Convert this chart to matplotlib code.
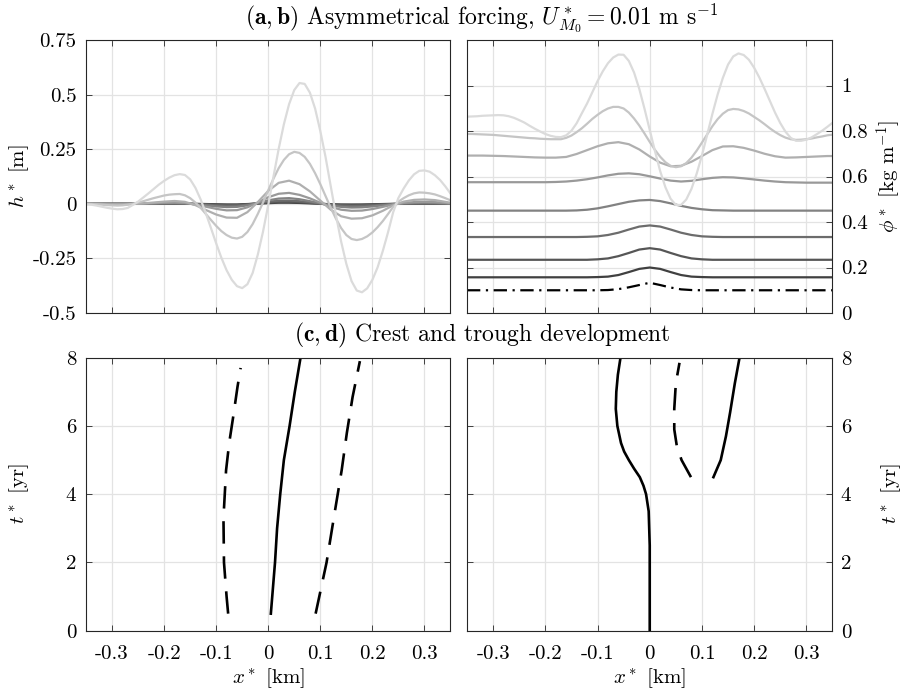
import matplotlib
matplotlib.use("Agg")
import matplotlib.pyplot as plt
import numpy as np

plt.rcParams.update({
    "font.family": "serif",
    "font.serif": ["cmr10"],
    "mathtext.fontset": "cm",
    "axes.unicode_minus": False,
    "axes.formatter.use_mathtext": True,
    "font.size": 15,
})

# x positions [km]: coarse grid for the small-amplitude profiles, fine grid for the large ones
x_km = [-0.35, -0.34, -0.32, -0.30, -0.28, -0.26, -0.24, -0.22, -0.20, -0.18,
        -0.16, -0.14, -0.12, -0.10, -0.08, -0.06, -0.04, -0.02, 0.00, 0.02,
        0.04, 0.06, 0.08, 0.10, 0.12, 0.14, 0.16, 0.18, 0.20, 0.22,
        0.24, 0.26, 0.28, 0.30, 0.32, 0.34, 0.35]
x_km_fine = [-0.35, -0.34, -0.33, -0.32, -0.31, -0.30, -0.29, -0.28, -0.27, -0.26,
             -0.25, -0.24, -0.23, -0.22, -0.21, -0.20, -0.19, -0.18, -0.17, -0.16,
             -0.15, -0.14, -0.13, -0.12, -0.11, -0.10, -0.09, -0.08, -0.07, -0.06,
             -0.05, -0.04, -0.03, -0.02, -0.01, 0.00, 0.01, 0.02, 0.03, 0.04,
             0.05, 0.06, 0.07, 0.08, 0.09, 0.10, 0.11, 0.12, 0.13, 0.14,
             0.15, 0.16, 0.17, 0.18, 0.19, 0.20, 0.21, 0.22, 0.23, 0.24,
             0.25, 0.26, 0.27, 0.28, 0.29, 0.30, 0.31, 0.32, 0.33, 0.34, 0.35]

# (a) bed height h* [m], t = 1 ... 8 yr (dark -> light)
h_t1 = [0, 0, 0, 0, 0, 0, 0, 0, 0, 0, 0, 0, -0.001, -0.002, -0.003, -0.003, -0.001, 0.001, 0.003,
        0.005, 0.005, 0.004, 0.002, 0, -0.002, -0.003, -0.003, -0.003, -0.002, -0.001, 0, 0,
        0.001, 0.001, 0.001, 0, 0]
h_t2 = [0, 0, 0, 0, 0, 0, 0, 0, 0.001, 0.001, 0.001, -0.001, -0.002, -0.004, -0.005, -0.005, -0.002,
        0.002, 0.006, 0.008, 0.009, 0.007, 0.004, 0.001, -0.003, -0.005, -0.006, -0.005, -0.004,
        -0.002, -0.001, 0.001, 0.001, 0.002, 0.001, 0.001, 0]
h_t3 = [0, 0, 0, 0, 0, 0, 0, 0.001, 0.001, 0.002, 0.001, -0.001, -0.004, -0.007, -0.009, -0.008,
        -0.004, 0.003, 0.010, 0.014, 0.015, 0.012, 0.007, 0.001, -0.005, -0.008, -0.010, -0.009,
        -0.007, -0.004, -0.001, 0.001, 0.002, 0.003, 0.002, 0.001, 0]
h_t4 = [0, 0, 0, 0, 0, 0, 0.001, 0.002, 0.003, 0.003, 0.002, -0.002, -0.007, -0.012, -0.015, -0.014,
        -0.007, 0.004, 0.016, 0.024, 0.026, 0.021, 0.012, 0.002, -0.008, -0.014, -0.017, -0.016,
        -0.012, -0.007, -0.002, 0.002, 0.004, 0.005, 0.004, 0.002, 0.001]
h_t5 = [0, 0, 0, -0.001, -0.001, 0, 0.001, 0.003, 0.005, 0.006, 0.004, -0.003, -0.013, -0.023,
        -0.030, -0.029, -0.016, 0.006, 0.030, 0.046, 0.050, 0.041, 0.025, 0.005, -0.014, -0.027,
        -0.032, -0.031, -0.024, -0.014, -0.003, 0.004, 0.008, 0.009, 0.008, 0.004, 0.002]
h_t6 = [0, 0, -0.001, -0.003, -0.003, -0.001, 0.002, 0.006, 0.010, 0.013, 0.009, -0.006, -0.028,
        -0.049, -0.063, -0.064, -0.038, 0.008, 0.059, 0.096, 0.106, 0.090, 0.057, 0.015, -0.027,
        -0.057, -0.068, -0.066, -0.053, -0.032, -0.007, 0.010, 0.018, 0.020, 0.017, 0.009, 0.005]
# fine grid
h_t7 = [0, -0.001, -0.002, -0.004, -0.006, -0.007, -0.008, -0.007, -0.004, 0.000,
        0.006, 0.012, 0.019, 0.026, 0.032, 0.038, 0.042, 0.044, 0.045, 0.039,
        0.026, 0.006, -0.018, -0.046, -0.074, -0.101, -0.125, -0.143, -0.155, -0.159,
        -0.151, -0.129, -0.093, -0.046, 0.006, 0.062, 0.115, 0.163, 0.201, 0.227,
        0.238, 0.233, 0.215, 0.183, 0.140, 0.090, 0.036, -0.018, -0.068, -0.111,
        -0.143, -0.161, -0.166, -0.161, -0.149, -0.131, -0.107, -0.079, -0.047, -0.014,
        0.010, 0.026, 0.039, 0.048, 0.052, 0.051, 0.048, 0.043, 0.035, 0.026, 0.016]
h_t8 = [-0.003, -0.004, -0.008, -0.013, -0.018, -0.022, -0.025, -0.024, -0.019, -0.005,
        0.010, 0.029, 0.048, 0.068, 0.088, 0.105, 0.120, 0.131, 0.136, 0.132,
        0.112, 0.074, 0.021, -0.042, -0.111, -0.181, -0.247, -0.304, -0.348, -0.377,
        -0.386, -0.368, -0.317, -0.232, -0.127, -0.005, 0.124, 0.251, 0.364, 0.456,
        0.521, 0.553, 0.549, 0.509, 0.436, 0.333, 0.215, 0.081, -0.051, -0.173,
        -0.275, -0.354, -0.397, -0.405, -0.387, -0.348, -0.291, -0.216, -0.131, -0.038,
        0.027, 0.070, 0.107, 0.135, 0.151, 0.153, 0.147, 0.131, 0.109, 0.080, 0.047]
h_coarse = [h_t1, h_t2, h_t3, h_t4, h_t5, h_t6]
h_fine = [h_t7, h_t8]

# (b) concentration phi* [kg m^-1], initial (dash-dot) and t = 1 ... 8 yr
phi_t0 = [0.100] * 14 + [0.101, 0.105, 0.113, 0.123, 0.133, 0.123, 0.112, 0.104, 0.101] + [0.100] * 14
phi_t1 = [0.157] * 13 + [0.158, 0.160, 0.167, 0.180, 0.194, 0.200, 0.194, 0.180, 0.167, 0.160,
                         0.158] + [0.157] * 13
phi_t2 = [0.234] * 13 + [0.236, 0.240, 0.250, 0.264, 0.279, 0.285, 0.279, 0.264, 0.250, 0.240,
                         0.236] + [0.234] * 13
phi_t3 = [0.334] * 12 + [0.335, 0.337, 0.343, 0.353, 0.367, 0.380, 0.385, 0.380, 0.367, 0.353,
                         0.343, 0.337, 0.335] + [0.334] * 12
phi_t4 = [0.450] * 11 + [0.451, 0.454, 0.460, 0.469, 0.479, 0.489, 0.495, 0.497, 0.492, 0.482,
                         0.471, 0.462, 0.456, 0.452, 0.451] + [0.450] * 11
phi_t5 = [0.575] * 9 + [0.576, 0.578, 0.582, 0.588, 0.596, 0.605, 0.612, 0.614, 0.610, 0.601,
                        0.591, 0.582, 0.578, 0.581, 0.588, 0.594, 0.597, 0.596, 0.592, 0.587,
                        0.582, 0.578, 0.575, 0.574] + [0.573] * 4
phi_t6 = [0.692, 0.692, 0.692, 0.691, 0.690, 0.688, 0.686, 0.684, 0.683, 0.683, 0.686, 0.699,
          0.716, 0.733, 0.746, 0.751, 0.742, 0.719, 0.688, 0.661, 0.645, 0.647, 0.665, 0.690,
          0.716, 0.732, 0.733, 0.726, 0.714, 0.700, 0.689, 0.683, 0.684, 0.686, 0.688, 0.690,
          0.690]
# fine grid
phi_t7 = [0.787, 0.787, 0.786, 0.785, 0.784, 0.783, 0.781, 0.779, 0.777, 0.775,
          0.773, 0.771, 0.769, 0.768, 0.766, 0.765, 0.764, 0.764, 0.764, 0.770,
          0.780, 0.795, 0.812, 0.832, 0.853, 0.871, 0.887, 0.899, 0.906, 0.906,
          0.899, 0.881, 0.855, 0.824, 0.789, 0.752, 0.717, 0.687, 0.663, 0.647,
          0.641, 0.645, 0.659, 0.683, 0.714, 0.749, 0.785, 0.821, 0.852, 0.876,
          0.892, 0.897, 0.895, 0.888, 0.877, 0.862, 0.847, 0.830, 0.812, 0.796,
          0.782, 0.771, 0.764, 0.761, 0.762, 0.764, 0.767, 0.772, 0.776, 0.781, 0.784]
phi_t8 = [0.863, 0.864, 0.865, 0.867, 0.868, 0.869, 0.870, 0.869, 0.865, 0.858,
          0.848, 0.837, 0.823, 0.810, 0.798, 0.787, 0.779, 0.774, 0.773, 0.781,
          0.801, 0.834, 0.878, 0.921, 0.970, 1.019, 1.062, 1.098, 1.123, 1.136,
          1.135, 1.108, 1.057, 0.985, 0.898, 0.805, 0.712, 0.624, 0.553, 0.502,
          0.475, 0.475, 0.499, 0.546, 0.613, 0.693, 0.783, 0.875, 0.960, 1.033,
          1.092, 1.128, 1.141, 1.134, 1.113, 1.078, 1.035, 0.985, 0.933, 0.881,
          0.835, 0.797, 0.770, 0.757, 0.757, 0.762, 0.772, 0.786, 0.801, 0.818, 0.836]
phi_coarse = [phi_t1, phi_t2, phi_t3, phi_t4, phi_t5, phi_t6]
phi_fine = [phi_t7, phi_t8]

# (c) crest / trough positions [km] versus time [yr]
c_crest_t = [0.5, 2, 3, 4, 5, 6, 7, 8]
c_crest_x = [0.005, 0.013, 0.017, 0.023, 0.030, 0.041, 0.051, 0.062]
c_trough_left_t = [0.5, 1, 2, 3.3, 4.7, 5.5, 6.3, 7.15, 7.7]
c_trough_left_x = [-0.077, -0.080, -0.085, -0.086, -0.081, -0.075, -0.067, -0.059, -0.053]
c_trough_right_t = [0.5, 2, 3.5, 4.7, 5.8, 6.85, 7.9]
c_trough_right_x = [0.091, 0.112, 0.128, 0.141, 0.151, 0.162, 0.176]

# (d)
d_crest_t = [0, 1, 2, 2.5, 3, 3.5, 4, 4.25, 4.5, 4.75, 5, 5.25, 5.5, 6, 6.5, 7, 7.5, 8]
d_crest_x = [0, 0, 0, 0, -0.001, -0.002, -0.007, -0.012, -0.019, -0.030, -0.040, -0.049,
             -0.055, -0.062, -0.065, -0.064, -0.061, -0.056]
d_crest2_t = [4.5, 5, 5.7, 6.4, 7.25, 8]
d_crest2_x = [0.122, 0.136, 0.146, 0.154, 0.163, 0.172]
d_trough_t = [4.5, 5, 5.4, 5.9, 6.5, 7.25, 7.85]
d_trough_x = [0.079, 0.061, 0.052, 0.047, 0.047, 0.050, 0.057]

x_ticks = [-0.3, -0.2, -0.1, 0, 0.1, 0.2, 0.3]
x_ticklabels = ["-0.3", "-0.2", "-0.1", "0", "0.1", "0.2", "0.3"]
h_ticks = [-0.5, -0.25, 0, 0.25, 0.5, 0.75]
h_ticklabels = ["-0.5", "-0.25", "0", "0.25", "0.5", "0.75"]
phi_ticks = [0, 0.2, 0.4, 0.6, 0.8, 1.0]
phi_ticklabels = ["0", "0.2", "0.4", "0.6", "0.8", "1"]
t_ticks = [0, 2, 4, 6, 8]
t_ticklabels = ["0", "2", "4", "6", "8"]

grays = [str(g) for g in np.linspace(0.25, 0.86, 8)]
dash = (0, (8.5, 4.8))
dashdot = (0, (6, 2.5, 1, 2.5))


def style(ax):
    ax.set_xlim(-0.35, 0.35)
    ax.set_xticks(x_ticks)
    ax.tick_params(direction="in", top=True, right=True, length=4, width=0.6,
                   color="#262626", labelcolor="black", labelsize=15, pad=7)
    ax.tick_params(axis="x", pad=10)
    for s in ax.spines.values():
        s.set_linewidth(0.8)
        s.set_color("#262626")
    ax.grid(True, color="#e3e3e3", lw=0.9)
    ax.set_axisbelow(True)


fig = plt.figure(figsize=(9.11, 6.97), dpi=100)
ax_a = fig.add_axes([0.0944, 0.5509, 0.4001, 0.3917])
ax_b = fig.add_axes([0.5126, 0.5509, 0.4012, 0.3917])
ax_c = fig.add_axes([0.0944, 0.0951, 0.4001, 0.3917])
ax_d = fig.add_axes([0.5126, 0.0951, 0.4012, 0.3917])

# (a)
style(ax_a)
for vals, col in zip(h_coarse, grays[:6]):
    ax_a.plot(x_km, vals, color=col, lw=1.6)
for vals, col in zip(h_fine, grays[6:]):
    ax_a.plot(x_km_fine, vals, color=col, lw=1.6)
ax_a.set_ylim(-0.5, 0.75)
ax_a.set_yticks(h_ticks)
ax_a.set_yticklabels(h_ticklabels)
ax_a.set_xticklabels([])
ax_a.set_ylabel(r"$h^*$ [m]")
ax_a.yaxis.set_label_coords(-0.150, 0.5)

# (b)
style(ax_b)
ax_b.plot(x_km, phi_t0, color="black", lw=1.6, ls=dashdot)
for vals, col in zip(phi_coarse, grays[:6]):
    ax_b.plot(x_km, vals, color=col, lw=1.6)
for vals, col in zip(phi_fine, grays[6:]):
    ax_b.plot(x_km_fine, vals, color=col, lw=1.6)
ax_b.set_ylim(0, 1.2)
ax_b.set_yticks(phi_ticks)
ax_b.yaxis.tick_right()
ax_b.tick_params(left=True, labelleft=False, pad=6)
ax_b.tick_params(axis="x", pad=10)
ax_b.set_yticklabels(phi_ticklabels)
ax_b.set_xticklabels([])
ax_b.yaxis.set_label_position("right")
ax_b.set_ylabel(r"$\phi^*$ [kg m$^{-1}$]")
ax_b.yaxis.set_label_coords(1.115, 0.5)

# (c)
style(ax_c)
ax_c.plot(c_crest_x, c_crest_t, color="black", lw=1.9)
ax_c.plot(c_trough_left_x, c_trough_left_t, color="black", lw=1.9, ls=dash)
ax_c.plot(c_trough_right_x, c_trough_right_t, color="black", lw=1.9, ls=dash)
ax_c.set_ylim(0, 8)
ax_c.set_yticks(t_ticks)
ax_c.set_yticklabels(t_ticklabels)
ax_c.set_xticklabels(x_ticklabels)
ax_c.set_ylabel(r"$t^*$ [yr]")
ax_c.yaxis.set_label_coords(-0.150, 0.5)
ax_c.set_xlabel(r"$x^*$ [km]")
ax_c.xaxis.set_label_coords(0.5, -0.13)

# (d)
style(ax_d)
ax_d.plot(d_crest_x, d_crest_t, color="black", lw=1.9)
ax_d.plot(d_crest2_x, d_crest2_t, color="black", lw=1.9)
ax_d.plot(d_trough_x, d_trough_t, color="black", lw=1.9, ls=dash)
ax_d.set_ylim(0, 8)
ax_d.set_yticks(t_ticks)
ax_d.yaxis.tick_right()
ax_d.tick_params(left=True, labelleft=False, pad=6)
ax_d.tick_params(axis="x", pad=10)
ax_d.set_yticklabels(t_ticklabels)
ax_d.set_xticklabels(x_ticklabels)
ax_d.yaxis.set_label_position("right")
ax_d.set_ylabel(r"$t^*$ [yr]")
ax_d.yaxis.set_label_coords(1.128, 0.5)
ax_d.set_xlabel(r"$x^*$ [km]")
ax_d.xaxis.set_label_coords(0.5, -0.13)

fig.text(482 / 911, 1 - 18 / 697,
         r"$(\mathbf{a},\mathbf{b})$ Asymmetrical forcing, $U^*_{M_0}=0.01$ m s$^{-1}$",
         ha="center", va="center", fontsize=17)
fig.text(482 / 911, 1 - 335 / 697, r"$(\mathbf{c},\mathbf{d})$ Crest and trough development",
         ha="center", va="center", fontsize=17)

fig.savefig("out.png", dpi=100)
